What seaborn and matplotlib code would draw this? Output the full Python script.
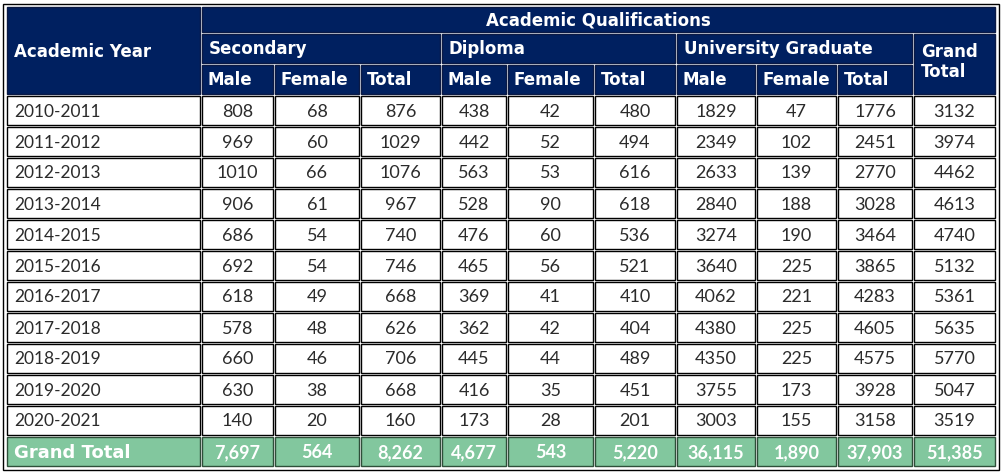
import matplotlib
matplotlib.use("Agg")
import matplotlib.pyplot as plt
from matplotlib.patches import Rectangle
import pandas as pd
import seaborn as sns

years = ["2010-2011", "2011-2012", "2012-2013", "2013-2014", "2014-2015", "2015-2016",
         "2016-2017", "2017-2018", "2018-2019", "2019-2020", "2020-2021"]
sec_male = [808, 969, 1010, 906, 686, 692, 618, 578, 660, 630, 140]
sec_female = [68, 60, 66, 61, 54, 54, 49, 48, 46, 38, 20]
sec_total = [876, 1029, 1076, 967, 740, 746, 668, 626, 706, 668, 160]
dip_male = [438, 442, 563, 528, 476, 465, 369, 362, 445, 416, 173]
dip_female = [42, 52, 53, 90, 60, 56, 41, 42, 44, 35, 28]
dip_total = [480, 494, 616, 618, 536, 521, 410, 404, 489, 451, 201]
uni_male = [1829, 2349, 2633, 2840, 3274, 3640, 4062, 4380, 4350, 3755, 3003]
uni_female = [47, 102, 139, 188, 190, 225, 221, 225, 225, 173, 155]
uni_total = [1776, 2451, 2770, 3028, 3464, 3865, 4283, 4605, 4575, 3928, 3158]
grand_total = [3132, 3974, 4462, 4613, 4740, 5132, 5361, 5635, 5770, 5047, 3519]
totals_row = [7697, 564, 8262, 4677, 543, 5220, 36115, 1890, 37903, 51385]

groups = ["Secondary", "Diploma", "University Graduate"]
sub_cols = ["Male", "Female", "Total"]

df = pd.DataFrame({
    "year": years,
    "sec_male": sec_male, "sec_female": sec_female, "sec_total": sec_total,
    "dip_male": dip_male, "dip_female": dip_female, "dip_total": dip_total,
    "uni_male": uni_male, "uni_female": uni_female, "uni_total": uni_total,
    "grand": grand_total,
})

# ---- layout (pixels) ----
NAVY = "#002060"
NAVY_EDGE = "#0b1a45"
GREEN = "#82C79E"
TEXT = "#2b2b2b"

col_edges = [6, 201, 274, 360, 441, 507, 594, 676, 756, 837, 913, 996]
head_edges = [6, 33, 64, 95]
row_h = 31

sns.set_theme(style="white")
plt.rcParams["font.family"] = ["Lato", "DejaVu Sans"]

fig = plt.figure(figsize=(10.04, 4.74), dpi=100)
ax = fig.add_axes([0, 0, 1, 1])
ax.set_xlim(0, 1004)
ax.set_ylim(474, 0)
ax.axis("off")


def cell(x0, x1, y0, y1, face, edge="black"):
    ax.add_patch(Rectangle((x0 + 1, y0 + 1), x1 - x0 - 2, y1 - y0 - 2,
                           facecolor=face, edgecolor=edge, linewidth=1.0))


n_rows = len(df)
bottom = head_edges[-1] + row_h * (n_rows + 1)
ax.add_patch(Rectangle((3.5, 3.5), 995.5, bottom - 1,
                       facecolor="white", edgecolor="black", linewidth=1.0))

hs = dict(color="white", fontweight="bold", fontsize=12, va="center",
          family=["DejaVu Sans"])

# header cells
cell(col_edges[0], col_edges[1], head_edges[0], head_edges[3], NAVY, NAVY_EDGE)
ax.text(col_edges[0] + 8, (head_edges[0] + head_edges[3]) / 2 + 1, "Academic Year", ha="left", **hs)

cell(col_edges[1], col_edges[-1], head_edges[0], head_edges[1], NAVY, NAVY_EDGE)
ax.text((col_edges[1] + col_edges[-1]) / 2, (head_edges[0] + head_edges[1]) / 2 + 1,
        "Academic Qualifications", ha="center", **hs)

for g, name in enumerate(groups):
    x0, x1 = col_edges[1 + 3 * g], col_edges[4 + 3 * g]
    cell(x0, x1, head_edges[1], head_edges[2], NAVY, NAVY_EDGE)
    ax.text(x0 + 8, (head_edges[1] + head_edges[2]) / 2, name, ha="left", **hs)
    for k, sub in enumerate(sub_cols):
        c0, c1 = col_edges[1 + 3 * g + k], col_edges[2 + 3 * g + k]
        cell(c0, c1, head_edges[2], head_edges[3], NAVY, NAVY_EDGE)
        ax.text(c0 + 7, (head_edges[2] + head_edges[3]) / 2, sub, ha="left", **hs)

cell(col_edges[-2], col_edges[-1], head_edges[1], head_edges[3], NAVY, NAVY_EDGE)
ax.text(col_edges[-2] + 8, (head_edges[1] + head_edges[3]) / 2 - 2, "Grand\nTotal",
        ha="left", linespacing=1.2, **hs)

# body rows
value_cols = list(df.columns[1:])
for i, row in df.iterrows():
    y0 = head_edges[-1] + i * row_h
    y1 = y0 + row_h
    yc = (y0 + y1) / 2 + 1
    cell(col_edges[0], col_edges[1], y0, y1, "white")
    ax.text(col_edges[0] + 8, yc, row["year"], ha="left", va="center",
            fontsize=12.5, color=TEXT)
    for j, c in enumerate(value_cols):
        c0, c1 = col_edges[1 + j], col_edges[2 + j]
        cell(c0, c1, y0, y1, "white")
        ax.text((c0 + c1) / 2, yc, str(row[c]), ha="center", va="center",
                fontsize=13, color=TEXT)

# grand total row
y0 = head_edges[-1] + n_rows * row_h
y1 = y0 + row_h
yc = (y0 + y1) / 2 + 1
cell(col_edges[0], col_edges[1], y0, y1, GREEN, "#2f4f3a")
ax.text(col_edges[0] + 8, yc, "Grand Total", ha="left", va="center",
        fontsize=13, fontweight="bold", color="white", family=["DejaVu Sans"])
for j, v in enumerate(totals_row):
    c0, c1 = col_edges[1 + j], col_edges[2 + j]
    cell(c0, c1, y0, y1, GREEN, "#2f4f3a")
    ax.text((c0 + c1) / 2, yc, f"{v:,}", ha="center", va="center",
            fontsize=13, fontweight="bold", color="white")

fig.savefig("out.png", dpi=100)
